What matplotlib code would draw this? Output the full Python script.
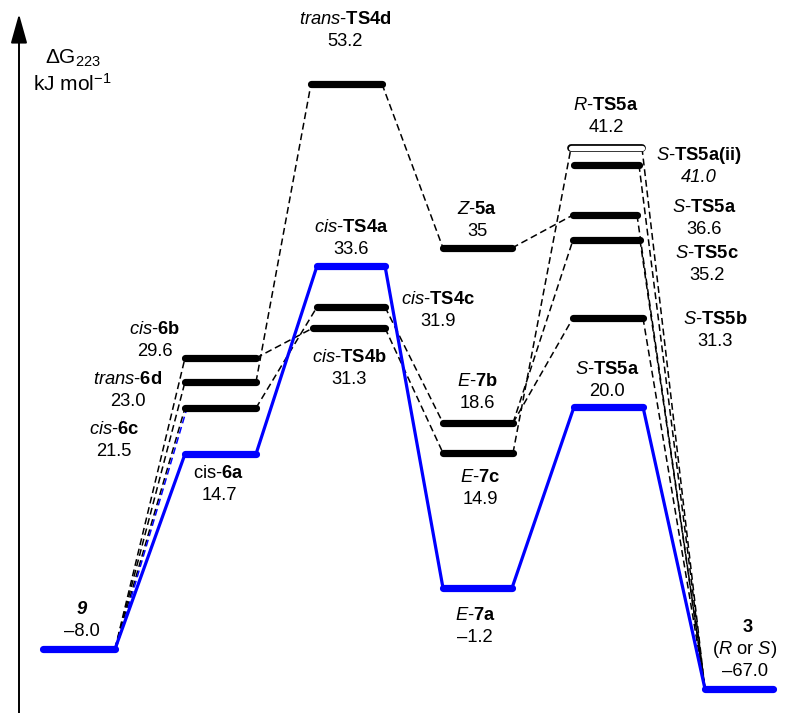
import matplotlib.pyplot as plt

# ============================================================
# Free energy profile (schematic) - Delta G at 223 K
# ============================================================
plt.rcParams['font.family'] = ['Liberation Sans', 'DejaVu Sans']
plt.rcParams['mathtext.fontset'] = 'custom'
plt.rcParams['mathtext.rm'] = 'Liberation Sans'
plt.rcParams['mathtext.it'] = 'Liberation Sans:italic'
plt.rcParams['mathtext.bf'] = 'Liberation Sans:bold'

# ---------------- data ----------------
species = ['9', 'cis-6a', 'cis-6b', 'trans-6d', 'cis-6c',
           'cis-TS4a', 'cis-TS4c', 'cis-TS4b', 'trans-TS4d',
           'Z-5a', 'E-7b', 'E-7c', 'E-7a',
           'R-TS5a', 'S-TS5a(ii)', 'S-TS5a*', 'S-TS5c', 'S-TS5b', 'S-TS5a',
           '3']
energies = ['\u20138.0', '14.7', '29.6', '23.0', '21.5',
            '33.6', '31.9', '31.3', '53.2',
            '35', '18.6', '14.9', '\u20131.2',
            '41.2', '41.0', '36.6', '35.2', '31.3', '20.0',
            '\u201367.0']
labels = [r'9', r'cis-$\mathbf{6a}$', r'$\mathit{cis}$-$\mathbf{6b}$',
          r'$\mathit{trans}$-$\mathbf{6d}$', r'$\mathit{cis}$-$\mathbf{6c}$',
          r'$\mathit{cis}$-$\mathbf{TS4a}$', r'$\mathit{cis}$-$\mathbf{TS4c}$',
          r'$\mathit{cis}$-$\mathbf{TS4b}$', r'$\mathit{trans}$-$\mathbf{TS4d}$',
          r'$\mathit{Z}$-$\mathbf{5a}$', r'$\mathit{E}$-$\mathbf{7b}$',
          r'$\mathit{E}$-$\mathbf{7c}$', r'$\mathit{E}$-$\mathbf{7a}$',
          r'$\mathit{R}$-$\mathbf{TS5a}$', r'$\mathit{S}$-$\mathbf{TS5a(ii)}$',
          r'$\mathit{S}$-$\mathbf{TS5a}$', r'$\mathit{S}$-$\mathbf{TS5c}$',
          r'$\mathit{S}$-$\mathbf{TS5b}$', r'$\mathit{S}$-$\mathbf{TS5a}$',
          r'$\mathbf{3}$']

# main (blue) pathway and dashed alternatives
main_path = ['9', 'cis-6a', 'cis-TS4a', 'E-7a', 'S-TS5a', '3']
dashed_links = [('9', 'cis-6b'), ('9', 'trans-6d'), ('9', 'cis-6c'),
                ('cis-6b', 'cis-TS4b'), ('trans-6d', 'trans-TS4d'),
                ('cis-6c', 'cis-TS4c'), ('trans-TS4d', 'Z-5a'),
                ('cis-TS4c', 'E-7b'), ('cis-TS4b', 'E-7c'),
                ('Z-5a', 'S-TS5a*'), ('E-7c', 'R-TS5a'),
                ('E-7b', 'S-TS5c'), ('E-7b', 'S-TS5b'),
                ('R-TS5a', '3'), ('S-TS5a(ii)', '3'), ('S-TS5a*', '3'),
                ('S-TS5c', '3'), ('S-TS5b', '3')]
blue_dashed_links = [('9', 'cis-6c')]

# ---------------- layout (schematic, pixel units) ----------------
bar_x = {  # left, right end of each level
    '9': (43, 115), 'cis-6a': (185, 256), 'cis-6b': (185, 256),
    'trans-6d': (185, 256), 'cis-6c': (185, 256),
    'cis-TS4a': (317, 385), 'cis-TS4c': (317, 385), 'cis-TS4b': (313, 385),
    'trans-TS4d': (311, 382), 'Z-5a': (443, 512), 'E-7b': (443, 513),
    'E-7c': (443, 513), 'E-7a': (443, 512), 'R-TS5a': (571, 642),
    'S-TS5a(ii)': (574, 639), 'S-TS5a*': (573, 637), 'S-TS5c': (573, 640),
    'S-TS5b': (573, 643), 'S-TS5a': (574, 643), '3': (705, 773)}
bar_y = {
    '9': 649, 'cis-6a': 454, 'cis-6b': 358, 'trans-6d': 382, 'cis-6c': 408,
    'cis-TS4a': 266, 'cis-TS4c': 307, 'cis-TS4b': 328, 'trans-TS4d': 84,
    'Z-5a': 248, 'E-7b': 423, 'E-7c': 453, 'E-7a': 588, 'R-TS5a': 148,
    'S-TS5a(ii)': 165, 'S-TS5a*': 215, 'S-TS5c': 240, 'S-TS5b': 318,
    'S-TS5a': 407, '3': 689}
label_xy = {  # centre of name line (value line sits below)
    '9': (82, 610), 'cis-6a': (219, 474), 'cis-6b': (155, 330),
    'trans-6d': (128, 380), 'cis-6c': (114, 430), 'cis-TS4a': (351, 227),
    'cis-TS4c': (438, 299), 'cis-TS4b': (349, 357), 'trans-TS4d': (345, 19),
    'Z-5a': (477, 209), 'E-7b': (477, 382), 'E-7c': (480, 477),
    'E-7a': (475, 616), 'R-TS5a': (606, 105), 'S-TS5a(ii)': (699, 155),
    'S-TS5a*': (704, 208), 'S-TS5c': (707, 253), 'S-TS5b': (715, 320),
    'S-TS5a': (607, 370), '3': (748, 628)}
value_dy = 22
blue = '#0000ff'
fs = 13.2

fig = plt.figure(figsize=(8.02, 7.13), dpi=100)
ax = fig.add_axes([0, 0, 1, 1])
ax.set_xlim(0, 802)
ax.set_ylim(713, 0)
ax.axis('off')

on_main = set(main_path)

# connecting lines
def link(a, b, **kw):
    ax.plot([bar_x[a][1], bar_x[b][0]], [bar_y[a], bar_y[b]], **kw)

for a, b in dashed_links:
    link(a, b, color='black', lw=1.1, ls=(0, (4.5, 2.5)), zorder=1)
for a, b in blue_dashed_links:
    ax.plot([bar_x[a][1] + 1, bar_x[b][0] + 2], [bar_y[a], bar_y[b]],
            color=blue, lw=1.1, ls=(0, (4.5, 2.5)), zorder=1)
for a, b in zip(main_path[:-1], main_path[1:]):
    link(a, b, color=blue, lw=2.3, zorder=2)

# energy levels
for key in species:
    x0, x1 = bar_x[key]
    y = bar_y[key]
    if key == 'R-TS5a':
        ax.plot([x0, x1], [y, y], color='black', lw=5.6,
                solid_capstyle='round', zorder=3)
        ax.plot([x0, x1], [y, y], color='white', lw=3.8,
                solid_capstyle='round', zorder=4)
    else:
        c = blue if key in on_main else 'black'
        ax.plot([x0, x1], [y, y], color=c, lw=5.2,
                solid_capstyle='round', zorder=3)

# labels
for key, lab, e in zip(species, labels, energies):
    lx, ly = label_xy[key]
    if key == '9':
        ax.text(lx, ly, lab, ha='center', va='center', fontsize=fs,
                fontweight='bold', fontstyle='italic')
    else:
        ax.text(lx, ly, lab, ha='center', va='center', fontsize=fs)
    if key == '3':
        ax.text(lx - 3, ly + value_dy, r'($\mathit{R}$ or $\mathit{S}$)',
                ha='center', va='center', fontsize=fs)
        ax.text(lx - 3, ly + 2 * value_dy, e, ha='center', va='center',
                fontsize=fs)
    else:
        style = 'italic' if key == 'S-TS5a(ii)' else 'normal'
        ax.text(lx, ly + value_dy, e, ha='center', va='center',
                fontsize=fs, fontstyle=style)

# y axis arrow
ax.annotate('', xy=(19, 14), xytext=(19, 713),
            arrowprops=dict(arrowstyle='-|>,head_length=1.0,head_width=0.28',
                            mutation_scale=18, lw=1.4, color='black',
                            shrinkA=0, shrinkB=0))
ax.text(73, 58, r'$\Delta$G$_{\mathregular{223}}$', ha='center', va='center',
        fontsize=15)
ax.text(72, 84, r'kJ mol$^{\mathregular{-1}}$', ha='center', va='center',
        fontsize=15)

plt.savefig('out.png', dpi=100)
plt.close()
